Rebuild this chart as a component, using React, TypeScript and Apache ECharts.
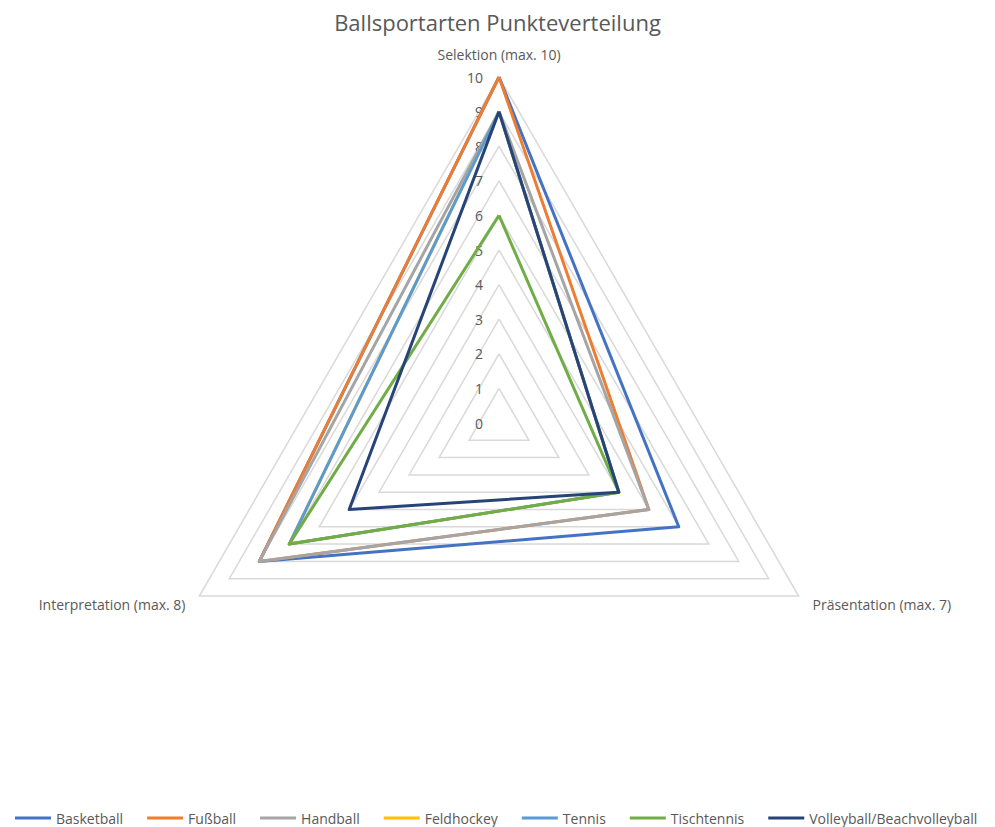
import React, { useEffect, useRef } from "react";
import * as echarts from "echarts";

const titleText = "Ballsportarten Punkteverteilung";
const indicatorNames = ["Selektion (max. 10)", "Interpretation (max. 8)", "Präsentation (max. 7)"];
const axisMax = 10;
const seriesNames = [
  "Basketball",
  "Fußball",
  "Handball",
  "Feldhockey",
  "Tennis",
  "Tischtennis",
  "Volleyball/Beachvolleyball",
];
// values ordered as [Selektion, Interpretation, Präsentation]
const basketball = [10, 8, 6];
const fussball = [10, 8, 5];
const handball = [9, 8, 5];
const feldhockey = [9, 7, 4];
const tennis = [9, 7, 4];
const tischtennis = [6, 7, 4];
const volleyball = [9, 5, 4];
const seriesValues = [basketball, fussball, handball, feldhockey, tennis, tischtennis, volleyball];
const colors = ["#4472C4", "#ED7D31", "#A5A5A5", "#FFC000", "#5B9BD5", "#70AD47", "#264478"];

export default function App() {
  const ref = useRef<HTMLDivElement>(null);
  useEffect(() => {
    document.body.style.margin = "0";
    const chart = echarts.init(ref.current!, undefined, { renderer: "svg" });
    chart.setOption({
      animation: false,
      color: colors,
      title: {
        text: titleText,
        left: "center",
        top: 6,
        textStyle: { fontFamily: "Open Sans", fontSize: 22, fontWeight: "normal", color: "#595959" },
      },
      legend: {
        bottom: -3,
        left: 10,
        itemWidth: 36,
        itemHeight: 3,
        itemGap: 24,
        icon: "rect",
        textStyle: { fontFamily: "Open Sans", fontSize: 14, color: "#595959" },
        data: seriesNames,
      },
      radar: {
        center: [499, 423],
        radius: 346,
        startAngle: 90,
        shape: "polygon",
        splitNumber: 10,
        indicator: indicatorNames.map((n, i) => ({
          name: n,
          min: 0,
          max: axisMax,
          ...(i === 0
            ? {
                axisLabel: {
                  show: true,
                  fontFamily: "Open Sans",
                  fontSize: 14,
                  color: "#595959",
                  margin: 16,
                },
              }
            : {}),
        })),
        axisName: { fontFamily: "Open Sans", fontSize: 14, color: "#595959" },
        nameGap: 16,
        axisLine: { show: false },
        axisTick: { show: false },
        axisLabel: { show: false },
        splitArea: { show: false },
        splitLine: { lineStyle: { color: "#D9D9D9", width: 1.5 } },
      },
      series: [
        {
          type: "radar",
          symbol: "none",
          lineStyle: { width: 3 },
          data: seriesNames.map((n, i) => ({
            name: n,
            value: seriesValues[i],
            lineStyle: { width: 3, color: colors[i] },
            itemStyle: { color: colors[i] },
          })),
        },
      ],
    });
    return () => chart.dispose();
  }, []);
  return <div ref={ref} style={{ width: 995, height: 827 }} />;
}
